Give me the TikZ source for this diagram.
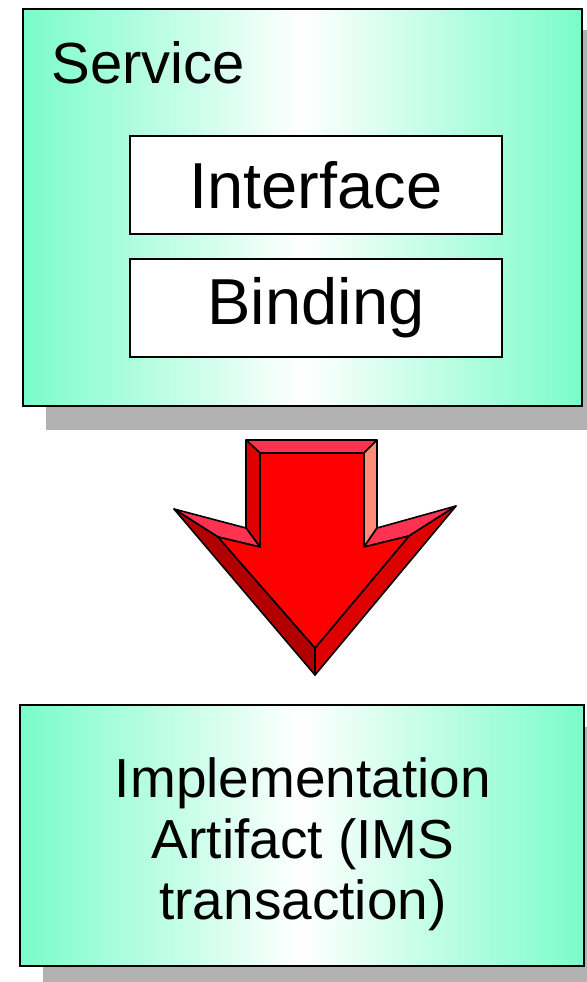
\documentclass[tikz,border=0pt]{standalone}
\usepackage{fontspec}
\setmainfont{Liberation Sans}
\usepackage{tikz}
\definecolor{aqua}{RGB}{122,252,202}
\definecolor{topface}{RGB}{255,50,80}
\definecolor{leftface}{RGB}{224,0,0}
\definecolor{rightface}{RGB}{255,140,120}
\definecolor{lowleft}{RGB}{178,0,0}
\definecolor{lowright}{RGB}{220,0,0}

\begin{document}
\begin{tikzpicture}[x=1pt,y=-1pt]

\tikzset{boite/.style={draw,line width=2pt,left color=aqua,right color=aqua,middle color=white,inner sep=0pt},
	ombre/.style={fill=black!30},
	case/.style={draw,line width=1.6pt,fill=white,minimum width=372pt,minimum height=98pt,inner sep=0pt},
	face/.style={draw,line width=1.6pt,line join=round}}

\useasboundingbox (0,0) rectangle (586,982);

%--------------------bloc Service---------------------
\fill[ombre] (46,30) rectangle (590,430);
\node[boite,minimum width=559pt,minimum height=397pt] (service) at (302.5,207.5) {};
\node[anchor=base west,font=\fontsize{58}{60}\selectfont] (titre) at (48,84) {Service};

\node[case,font=\fontsize{65}{68}\selectfont] (interface) at (316,185) {Interface};
\node[case,font=\fontsize{65}{68}\selectfont] (binding) at (316,308) {Binding};

%--------------------fleche rouge---------------------
	%faces du biseau
	\draw[face,fill=topface] (246,440) -- (377,440) -- (364,453) -- (260,453) -- cycle;
	\draw[face,fill=leftface] (246,440) -- (260,453) -- (260,547) -- (246,528) -- cycle;
	\draw[face,fill=rightface] (377,440) -- (377,528) -- (364,547) -- (364,453) -- cycle;
	\draw[face,fill=topface] (174,509) -- (246,528) -- (260,547) -- (218,537) -- cycle;
	\draw[face,fill=topface] (456,506) -- (409,536) -- (364,547) -- (377,528) -- cycle;
	\draw[face,fill=lowleft] (174,509) -- (218,537) -- (315,648) -- (315,675) -- cycle;
	\draw[face,fill=lowright] (456,506) -- (315,675) -- (315,648) -- (409,536) -- cycle;
	%face avant
	\draw[face,fill=red] (260,453) -- (364,453) -- (364,547) -- (409,536) -- (315,648) -- (218,537) -- (260,547) -- cycle;

%--------------------bloc Implementation---------------------
\fill[ombre] (43,727) rectangle (590,982);
\node[boite,minimum width=564pt,minimum height=261pt] (artefact) at (302,835.5) {};
\node[align=center,font=\fontsize{55}{61}\selectfont] (texte) at (303,844) {Implementation\\Artifact (IMS\\transaction)};

\end{tikzpicture}
\end{document}
